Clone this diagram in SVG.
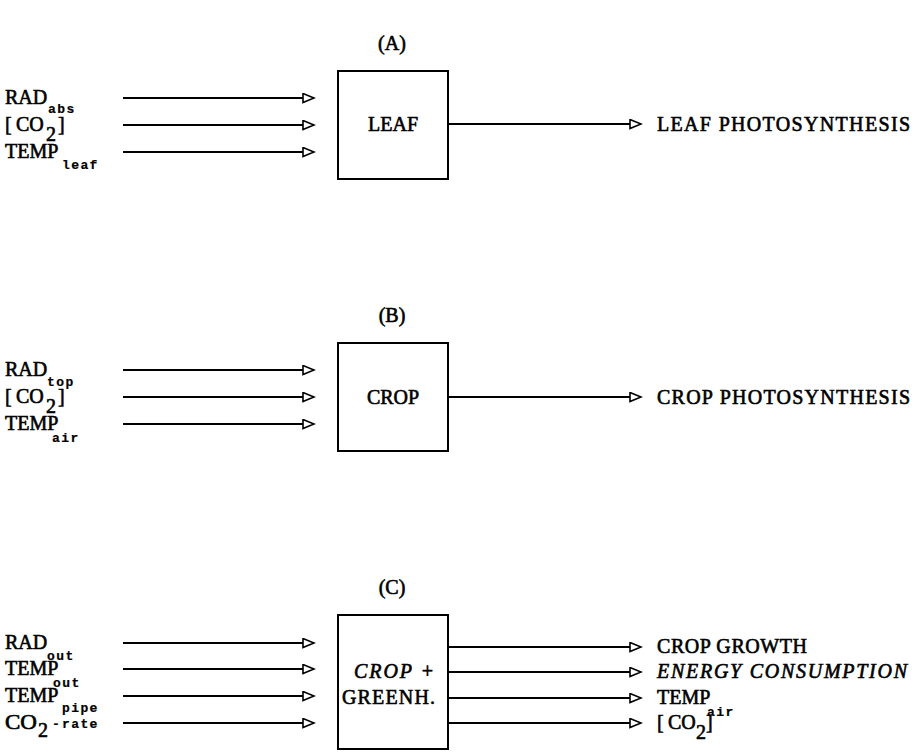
<svg xmlns="http://www.w3.org/2000/svg" width="917" height="752" viewBox="0 0 917 752">
<defs>
<marker id="ah" markerWidth="14" markerHeight="12" refX="12" refY="5.5" orient="auto" markerUnits="userSpaceOnUse">
<path d="M1,1 L12,5.5 L1,10 Z" fill="#fff" stroke="#000" stroke-width="1.6" stroke-linejoin="miter"/>
</marker>
</defs>
<style>
text{font-family:"Liberation Serif","Times New Roman",serif;font-size:20px;fill:#000;stroke:#000;stroke-width:0.6px}
.it{font-style:italic}
.sub{font-family:"Liberation Mono",monospace;font-size:13px;font-weight:bold;letter-spacing:1.4px;stroke-width:0.2px}
.t{text-anchor:middle}
.box{fill:#fff;stroke:#000;stroke-width:2}
.ln{stroke:#000;stroke-width:2;fill:none;marker-end:url(#ah)}
</style>
<rect width="917" height="752" fill="#fff"/>

<!-- Panel A -->
<text class="t" x="392" y="50">(A)</text>
<g id="a-in-rad"><text x="5" y="104">RAD</text><text class="sub" x="48" y="113">abs</text></g>
<g id="a-in-co2"><text x="5" y="131">[</text><text x="16" y="131">CO</text><text x="46" y="141">2</text><text x="58" y="131">]</text></g>
<g id="a-in-temp"><text x="5" y="158">TEMP</text><text class="sub" x="62" y="169">leaf</text></g>
<g id="leaf"><rect class="box" x="338" y="71" width="110" height="108"/><text class="t" x="393" y="131">LEAF</text></g>
<g id="a-out"><text x="657" y="131" textLength="253" lengthAdjust="spacing">LEAF PHOTOSYNTHESIS</text></g>

<!-- Panel B -->
<text class="t" x="392" y="322">(B)</text>
<g id="b-in-rad"><text x="5" y="376">RAD</text><text class="sub" x="47" y="386">top</text></g>
<g id="b-in-co2"><text x="5" y="403">[</text><text x="16" y="403">CO</text><text x="46" y="413">2</text><text x="58" y="403">]</text></g>
<g id="b-in-temp"><text x="5" y="430">TEMP</text><text class="sub" x="52" y="442">air</text></g>
<g id="crop"><rect class="box" x="338" y="343" width="110" height="108"/><text class="t" x="393" y="404">CROP</text></g>
<g id="b-out"><text x="657" y="404" textLength="253" lengthAdjust="spacing">CROP PHOTOSYNTHESIS</text></g>

<!-- Panel C -->
<text class="t" x="392" y="594">(C)</text>
<g id="c-in-rad"><text x="5" y="649">RAD</text><text class="sub" x="47" y="660">out</text></g>
<g id="c-in-tout"><text x="5" y="675">TEMP</text><text class="sub" x="53" y="687">out</text></g>
<g id="c-in-tpipe"><text x="5" y="702">TEMP</text><text class="sub" x="62" y="712">pipe</text></g>
<g id="c-in-co2"><text x="5" y="729" textLength="32" lengthAdjust="spacingAndGlyphs">CO</text><text x="38" y="737">2</text><text class="sub" x="52" y="728">-</text><text class="sub" x="62" y="728">rate</text></g>
<g id="greenhouse"><rect class="box" x="338" y="615" width="110" height="134"/><text class="it" x="354" y="678" textLength="80" lengthAdjust="spacing">CROP +</text><text x="342" y="704" textLength="93" lengthAdjust="spacing">GREENH.</text></g>
<g id="c-out-growth"><text x="657" y="653" textLength="150" lengthAdjust="spacing">CROP GROWTH</text></g>
<g id="c-out-energy"><text class="it" x="657" y="678" textLength="250" lengthAdjust="spacing">ENERGY CONSUMPTION</text></g>
<g id="c-out-temp"><text x="657" y="704">TEMP</text><text class="sub" x="707" y="716">air</text></g>
<g id="c-out-co2"><text x="657" y="729">[</text><text x="668" y="729">CO</text><text x="696" y="739">2</text><text x="706" y="729">]</text></g>

<g id="connectors">
<line class="ln" x1="123" y1="98" x2="314" y2="98"/>
<line class="ln" x1="123" y1="125" x2="314" y2="125"/>
<line class="ln" x1="123" y1="152" x2="314" y2="152"/>
<line class="ln" x1="448" y1="124" x2="641" y2="124"/>

<line class="ln" x1="123" y1="370" x2="314" y2="370"/>
<line class="ln" x1="123" y1="397" x2="314" y2="397"/>
<line class="ln" x1="123" y1="424" x2="314" y2="424"/>
<line class="ln" x1="448" y1="397" x2="641" y2="397"/>

<line class="ln" x1="123" y1="643" x2="314" y2="643"/>
<line class="ln" x1="123" y1="669" x2="314" y2="669"/>
<line class="ln" x1="123" y1="696" x2="314" y2="696"/>
<line class="ln" x1="123" y1="723" x2="314" y2="723"/>
<line class="ln" x1="448" y1="647" x2="641" y2="647"/>
<line class="ln" x1="448" y1="672" x2="641" y2="672"/>
<line class="ln" x1="448" y1="698" x2="641" y2="698"/>
<line class="ln" x1="448" y1="723" x2="641" y2="723"/>
</g>
</svg>
